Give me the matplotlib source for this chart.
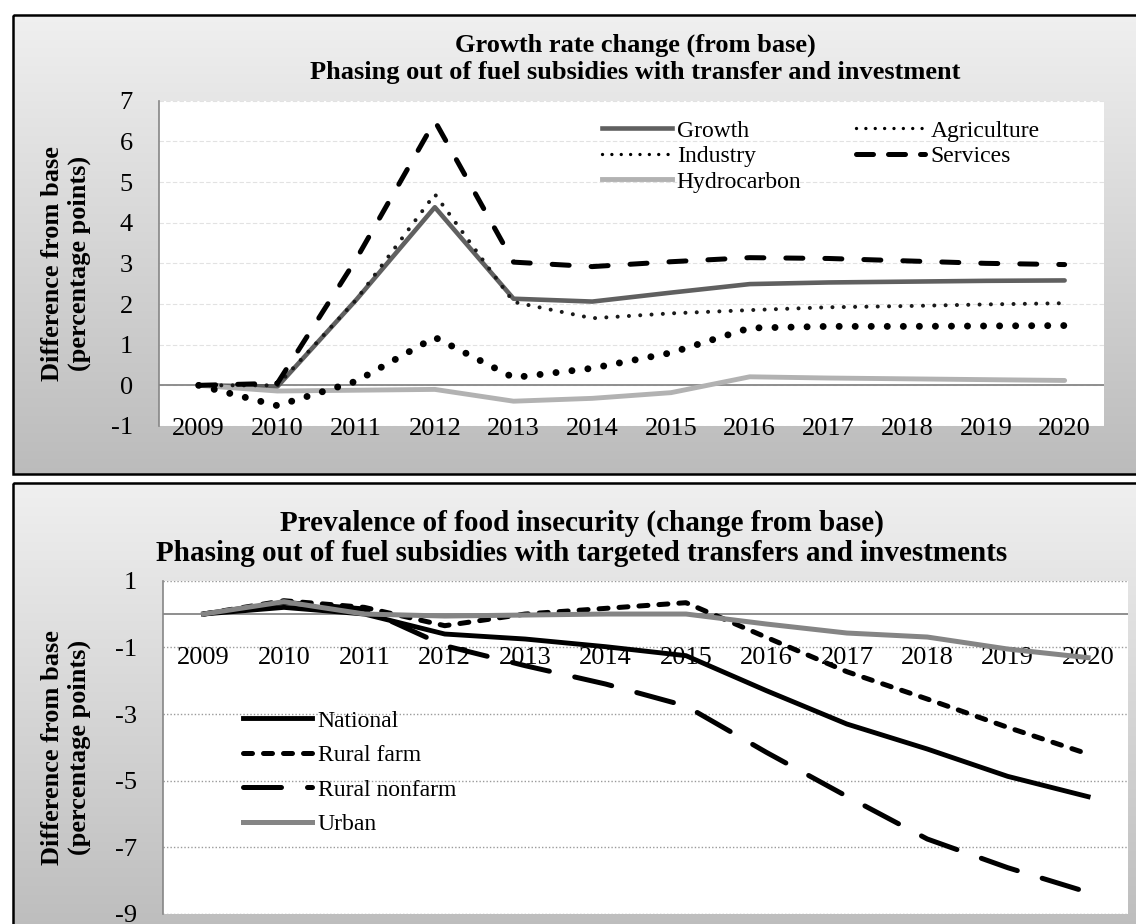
import numpy as np
import matplotlib.pyplot as plt
from matplotlib.lines import Line2D
from matplotlib.patches import Rectangle
from matplotlib.transforms import offset_copy

plt.rcParams['font.family'] = ['Liberation Serif', 'DejaVu Serif']
plt.rcParams['axes.unicode_minus'] = False

W, H = 1136, 924

years = [str(y) for y in range(2009, 2021)]

# top chart: growth rate change (percentage points from base)
growth = [0, -0.03, 2.1, 4.38, 2.13, 2.06, 2.28, 2.49, 2.53, 2.55, 2.57, 2.58]
agriculture = [0, -0.5, 0.1, 1.18, 0.19, 0.42, 0.8, 1.41, 1.45, 1.45, 1.46, 1.47]
industry = [0, 0, 2.1, 4.7, 2.05, 1.65, 1.77, 1.85, 1.92, 1.95, 1.99, 2.02]
services = [0, 0.05, 3.1, 6.5, 3.03, 2.92, 3.04, 3.14, 3.12, 3.06, 3.0, 2.97]
hydrocarbon = [0, -0.14, -0.12, -0.1, -0.39, -0.32, -0.18, 0.21, 0.18, 0.16, 0.14, 0.12]

# bottom chart: prevalence of food insecurity (change from base)
national = [0, 0.2, 0, -0.6, -0.75, -0.98, -1.25, -2.3, -3.3, -4.05, -4.87, -5.48]
rural_farm = [0, 0.4, 0.2, -0.35, 0, 0.17, 0.34, -0.7, -1.73, -2.55, -3.4, -4.2]
rural_nonfarm = [0, 0.35, 0.15, -0.95, -1.55, -2.1, -2.76, -4.15, -5.47, -6.75, -7.61, -8.35]
urban = [0, 0.37, 0, -0.06, -0.03, 0, 0, -0.3, -0.57, -0.69, -1.05, -1.31]

fig = plt.figure(figsize=(W / 100, H / 100), dpi=100)

# gradient panels behind both charts
bg = fig.add_axes([0, 0, 1, 1], zorder=-10)
bg.axis('off')
shade = np.linspace(0.94, 0.735, 256)
grad = np.repeat(shade[:, None, None], 3, axis=2) * np.ones((256, 2, 3))
for y0, y1 in [(15, 474), (482.7, 945)]:
    bg.imshow(grad, extent=[12.7, 1150, y1, y0], aspect='auto', interpolation='bilinear')
    bg.add_patch(Rectangle((12.7, y0), 1150, y1 - y0, fill=False, ec='black', lw=1.8))
bg.set_xlim(0, W)
bg.set_ylim(H, 0)


def px_axes(left, top, right, bottom):
    return fig.add_axes([left / W, 1 - bottom / H, (right - left) / W, (bottom - top) / H])


def style_axes(ax, x_n):
    ax.set_facecolor('white')
    ax.set_xlim(-0.5, x_n - 0.5)
    ax.set_xticks([])
    for s in ['top', 'right', 'bottom']:
        ax.spines[s].set_visible(False)
    ax.spines['left'].set_color('#868686')
    ax.spines['left'].set_linewidth(1.2)
    ax.tick_params(axis='y', length=0, pad=19, labelsize=19)
    ax.axhline(0, color='#868686', lw=1.3, zorder=1.5)
    lab_tr = offset_copy(ax.transData, fig=fig, y=-50, units='dots')
    for i, yr in enumerate(years):
        ax.text(i, 0, yr, transform=lab_tr, ha='center', va='baseline', fontsize=19)


x = np.arange(len(years))

# ---------------- top chart ----------------
ax1 = px_axes(159.3, 100.7, 1104, 426)
style_axes(ax1, len(years))
ax1.set_ylim(-1, 7)
ax1.set_yticks(range(-1, 8))
ax1.yaxis.grid(True, color='#e2e2e2', lw=0.8, ls=(0, (4, 2)))
ax1.set_axisbelow(True)

dots_small = dict(ls=(0, (0.01, 2.8)), dash_capstyle='round')
ax1.plot(x, growth, color='#606060', lw=3.3, solid_capstyle='round', zorder=3)
ax1.plot(x, hydrocarbon, color='#b2b2b2', lw=3.5, solid_capstyle='round', zorder=3)
ax1.plot(x, industry, color='#1a1a1a', lw=2.9, zorder=4, **dots_small)
ax1.plot(x, agriculture, color='black', lw=5, ls=(0, (0.01, 2.3)),
         dash_capstyle='round', zorder=4)
ax1.plot(x, services, color='black', lw=3.6, ls=(0, (3.4, 4.4)),
         dash_capstyle='round', zorder=5)

leg1_handles = [
    Line2D([], [], color='#606060', lw=3.3),
    Line2D([], [], color='black', lw=2.4, **dots_small),
    Line2D([], [], color='#b2b2b2', lw=3.5),
    Line2D([], [], color='black', lw=2.4, **dots_small),
    Line2D([], [], color='black', lw=3.6, ls=(0, (3.4, 3.0)), dash_capstyle='round'),
]
leg1_labels = ['Growth', 'Industry', 'Hydrocarbon', 'Agriculture', 'Services']
ax1.legend(leg1_handles, leg1_labels, ncol=2, loc='upper left',
           bbox_to_anchor=(602 / W, 1 - 120 / H), bbox_transform=fig.transFigure,
           frameon=False, fontsize=17, handlelength=2.95, handletextpad=0.22,
           columnspacing=2.3, labelspacing=0.17, borderpad=0, borderaxespad=0)

fig.text(635 / W, 1 - 59 / H,
         'Growth rate change (from base)\nPhasing out of fuel subsidies with transfer and investment',
         ha='center', va='center', fontsize=19, fontweight='bold', linespacing=1.2)
fig.text(66 / W, 1 - 263.4 / H, 'Difference from base\n(percentage points)',
         rotation=90, ha='center', va='center', fontsize=19, fontweight='bold',
         linespacing=1.2)

# ---------------- bottom chart ----------------
ax2 = px_axes(163.3, 580.7, 1128.3, 914)
style_axes(ax2, len(years))
ax2.set_ylim(-9, 1)
ax2.set_yticks(range(-9, 2, 2))
ax2.yaxis.grid(True, color='#9a9a9a', lw=1.0, ls=(0, (1, 1.5)))
ax2.set_axisbelow(True)

ax2.plot(x, national, color='black', lw=3.5, label='National', zorder=3)
ax2.plot(x, rural_farm, color='black', lw=3.6, ls=(0, (1.8, 2.2)),
         dash_capstyle='round', label='Rural farm', zorder=3)
ax2.plot(x, rural_nonfarm, color='black', lw=3.6, ls=(0, (7.6, 5.2)),
         dash_capstyle='round', label='Rural nonfarm', zorder=3)
ax2.plot(x, urban, color='#858585', lw=3.6, label='Urban', zorder=4)

ax2.legend(loc='upper left', bbox_to_anchor=(242.7 / W, 1 - 710 / H),
           bbox_transform=fig.transFigure, frameon=False, fontsize=17,
           handlelength=2.95, handletextpad=0.22, labelspacing=0.55,
           borderpad=0, borderaxespad=0)

fig.text(582 / W, 1 - 538.3 / H,
         'Prevalence of food insecurity (change from base)\n'
         'Phasing out of fuel subsidies with targeted transfers and investments',
         ha='center', va='center', fontsize=21, fontweight='bold', linespacing=1.14)
fig.text(66 / W, 1 - 747.3 / H, 'Difference from base\n(percentage points)',
         rotation=90, ha='center', va='center', fontsize=19, fontweight='bold',
         linespacing=1.2)

fig.savefig('out.png', dpi=100)
